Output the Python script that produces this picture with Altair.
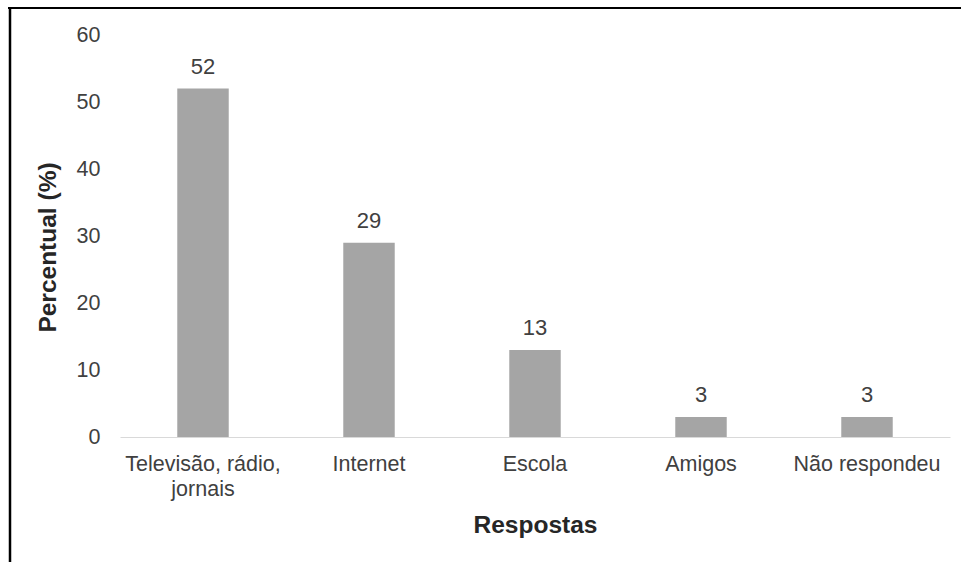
import altair as alt
import pandas as pd

categories = ["Televisão, rádio, jornais", "Internet", "Escola", "Amigos", "Não respondeu"]
percentages = [52, 29, 13, 3, 3]
y_ticks = [0, 10, 20, 30, 40, 50, 60]

df = pd.DataFrame({"resposta": categories, "percentual": percentages})

FONT = "Liberation Sans"
LABEL = "#404040"

x_enc = alt.X(
    "resposta:N",
    sort=categories,
    scale=alt.Scale(paddingInner=0.69, paddingOuter=0.345),
    axis=alt.Axis(
        title="Respostas",
        labelAngle=0,
        ticks=False,
        domainColor="#d9d9d9",
        domainWidth=1.2,
        labelPadding=16,
        labelLineHeight=25,
        labelExpr="datum.label == 'Televisão, rádio, jornais' ? ['Televisão, rádio,', 'jornais'] : datum.label",
        titlePadding=14,
    ),
)
y_enc = alt.Y(
    "percentual:Q",
    scale=alt.Scale(domain=[0, 60]),
    axis=alt.Axis(
        title="Percentual (%)",
        values=y_ticks,
        grid=False,
        domain=False,
        ticks=False,
        labelPadding=20,
        titlePadding=16,
        titleY=212,
    ),
)

bars = alt.Chart(df).mark_bar(color="#a5a5a5").encode(x=x_enc, y=y_enc)

labels = alt.Chart(df).mark_text(
    baseline="bottom", dy=-10, fontSize=22, font=FONT, color=LABEL
).encode(x=alt.X("resposta:N", sort=categories), y="percentual:Q", text="percentual:Q")

# frame lines along the top and left edges of the figure
frame = alt.Chart(alt.Data(values=[{}]))
top_line = frame.mark_rule(color="#000000", strokeWidth=2).encode(
    x=alt.value(-112), x2=alt.value(845), y=alt.value(-27)
)
left_line = frame.mark_rule(color="#000000", strokeWidth=2.5).encode(
    x=alt.value(-110), y=alt.value(-28), y2=alt.value(530)
)

chart = (
    alt.layer(bars, labels, top_line, left_line)
    .properties(
        width=830,
        height=402,
        autosize=alt.AutoSizeParams(type="none"),
        padding={"left": 120, "top": 35, "right": 11, "bottom": 125},
        background="#ffffff",
    )
    .configure_view(stroke=None)
    .configure_axis(
        labelFont=FONT,
        labelFontSize=21.5,
        labelColor=LABEL,
        titleFont=FONT,
        titleFontSize=24.5,
        titleFontWeight="bold",
        titleColor="#262626",
    )
)

chart.save("out.html", embed_options={"renderer": "svg", "actions": False})
